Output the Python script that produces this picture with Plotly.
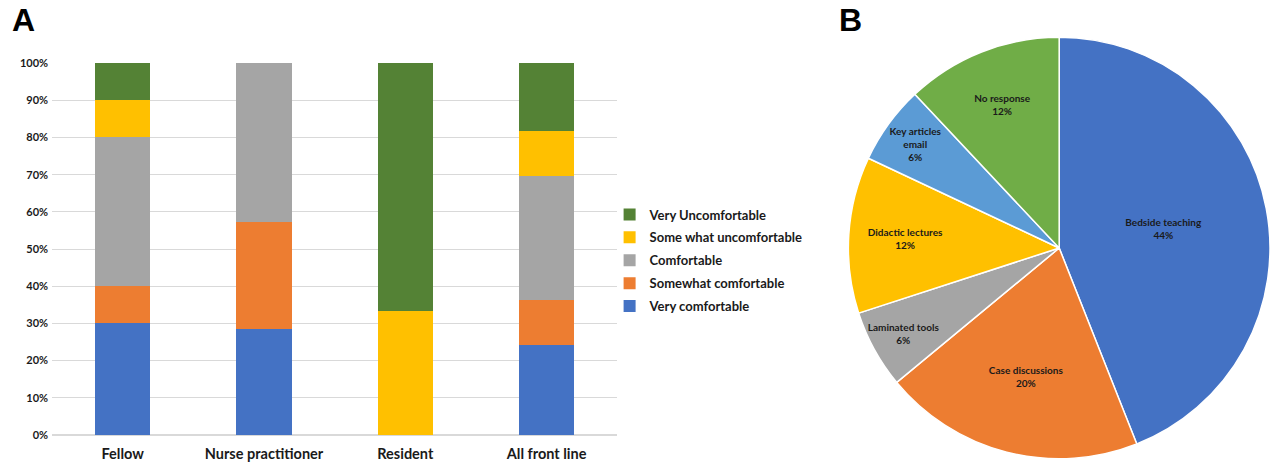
import plotly.graph_objects as go

# ---- Panel A data ----
roles = ["Fellow", "Nurse practitioner", "Resident", "All front line"]
very_comfortable = [0.30, 0.2857, 0.0, 0.242]
somewhat_comfortable = [0.10, 0.2857, 0.0, 0.121]
comfortable = [0.40, 0.4286, 0.0, 0.333]
somewhat_uncomfortable = [0.10, 0.0, 0.333, 0.121]
very_uncomfortable = [0.10, 0.0, 0.667, 0.182]
y_ticks = [0, 0.1, 0.2, 0.3, 0.4, 0.5, 0.6, 0.7, 0.8, 0.9, 1.0]

# ---- Panel B data ----
pie_labels = ["Bedside teaching", "Case discussions", "Laminated tools",
              "Didactic lectures", "Key articles<br>email", "No response"]
pie_values = [44, 20, 6, 12, 6, 12]

FONT = "Lato"
series = [
    ("Very comfortable", very_comfortable, "#4472C4"),
    ("Somewhat comfortable", somewhat_comfortable, "#ED7D31"),
    ("Comfortable", comfortable, "#A5A5A5"),
    ("Some what uncomfortable", somewhat_uncomfortable, "#FFC000"),
    ("Very Uncomfortable", very_uncomfortable, "#548235"),
]

fig = go.Figure()
for i, (name, vals, col) in enumerate(series):
    fig.add_trace(go.Bar(x=roles, y=vals, name=name, legendgroup=name,
                         legendrank=1000 - i,
                         marker=dict(color=col, line=dict(width=0)),
                         xaxis="x", yaxis="y"))

fig.add_trace(go.Pie(
    labels=pie_labels, values=pie_values, sort=False, direction="clockwise", rotation=0,
    marker=dict(colors=["#4472C4", "#ED7D31", "#A5A5A5", "#FFC000", "#5B9BD5", "#70AD47"],
                line=dict(color="white", width=1.5)),
    texttemplate="<b>%{label}<br>%{percent:.0%}</b>", textposition="inside",
    insidetextorientation="horizontal",
    textfont=dict(family=FONT, size=10, color="#1a1a1a"),
    domain=dict(x=[0.668, 1.0], y=[0.011, 0.92]),
    showlegend=False, hoverinfo="label+percent", automargin=False,
))

fig.update_layout(
    width=1270, height=464,
    margin=dict(l=0, r=0, t=0, b=0, autoexpand=False),
    paper_bgcolor="white", plot_bgcolor="white",
    barmode="stack", bargap=0.61,
    uniformtext=dict(minsize=10, mode="show"),
    font=dict(family=FONT, color="#262626"),
    xaxis=dict(domain=[0.041, 0.486], showline=False, ticks="", automargin=False,
               ticklabelstandoff=8,
               tickfont=dict(family=FONT, size=14.5, color="#1a1a1a", weight="bold")),
    yaxis=dict(domain=[0.0625, 0.864], range=[0, 1], tickvals=y_ticks, tickformat=".0%",
               showgrid=True, gridcolor="#D9D9D9", gridwidth=1, zeroline=True,
               zerolinecolor="#D9D9D9", ticks="", ticklen=0, automargin=False,
               ticklabelstandoff=3,
               tickfont=dict(family=FONT, size=11, color="#1a1a1a", weight="bold")),
    legend=dict(x=0.48, y=0.57, xanchor="left", yanchor="top",
                traceorder="grouped", tracegroupgap=3,
                font=dict(family=FONT, size=13, color="#1a1a1a", weight="bold"),
                itemwidth=30, bgcolor="rgba(0,0,0,0)"),
    annotations=[
        dict(text="<b>A</b>", x=0.008, y=1.0, xref="paper", yref="paper", xanchor="left",
             yanchor="top", showarrow=False, font=dict(family="Arial", size=32, color="black")),
        dict(text="<b>B</b>", x=0.659, y=1.0, xref="paper", yref="paper", xanchor="left",
             yanchor="top", showarrow=False, font=dict(family="Arial", size=32, color="black")),
    ],
)

fig.write_html("out.html", config={"displayModeBar": False},
               post_script="document.body.style.margin='0';document.body.style.overflow='hidden';")
